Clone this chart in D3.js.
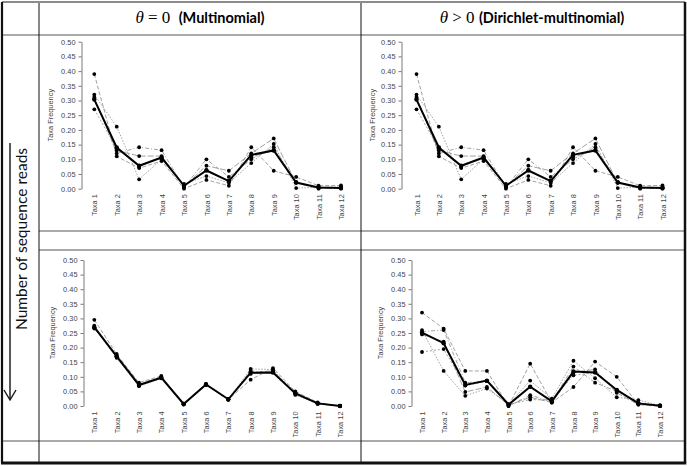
<!DOCTYPE html>
<html>
<head>
<meta charset="utf-8">
<script src="https://cdn.jsdelivr.net/npm/d3@7"></script>
<style>
  html, body { margin: 0; padding: 0; background: #fff; }
  svg { display: block; }
</style>
</head>
<body>
<svg id="chart" width="687" height="466"></svg>
<script>
// ---------------- data ----------------
const taxa = ["Taxa 1","Taxa 2","Taxa 3","Taxa 4","Taxa 5","Taxa 6","Taxa 7","Taxa 8","Taxa 9","Taxa 10","Taxa 11","Taxa 12"];
const yTicks = [0, 0.05, 0.10, 0.15, 0.20, 0.25, 0.30, 0.35, 0.40, 0.45, 0.50];
const colHeaders = ["(Multinomial)", "(Dirichlet-multinomial)"];
const colSymbols = ["=", ">"];
const rowLabel = "Number of sequence reads";
const yTitle = "Taxa Frequency";

// few reads (top row) — multinomial
const topMean = [0.303, 0.140, 0.078, 0.106, 0.010, 0.062, 0.026, 0.115, 0.130, 0.021, 0.004, 0.002];
const topReps = [
  [0.390, 0.110, 0.070, 0.094, 0.000, 0.030, 0.010, 0.141, 0.061, 0.040, 0.010, 0.011],
  [0.320, 0.211, 0.032, 0.100, 0.016, 0.043, 0.020, 0.087, 0.152, 0.002, 0.005, 0.005],
  [0.312, 0.120, 0.141, 0.131, 0.005, 0.100, 0.040, 0.100, 0.141, 0.022, 0.003, 0.000],
  [0.306, 0.130, 0.111, 0.111, 0.008, 0.078, 0.061, 0.120, 0.171, 0.020, 0.000, 0.005],
  [0.270, 0.137, 0.075, 0.107, 0.010, 0.064, 0.026, 0.107, 0.131, 0.022, 0.004, 0.002]
];
// top row — Dirichlet-multinomial (same picture)
const topDMMean = topMean.slice();
const topDMReps = topReps.map(r => r.slice());

// many reads (bottom row) — multinomial
const botMean = [0.270, 0.170, 0.072, 0.097, 0.007, 0.074, 0.023, 0.114, 0.115, 0.043, 0.009, 0.000];
const botReps = [
  [0.295, 0.178, 0.080, 0.103, 0.005, 0.075, 0.022, 0.090, 0.130, 0.050, 0.012, 0.000],
  [0.275, 0.165, 0.068, 0.095, 0.008, 0.073, 0.023, 0.127, 0.125, 0.038, 0.007, 0.000],
  [0.270, 0.170, 0.075, 0.100, 0.007, 0.076, 0.021, 0.120, 0.115, 0.045, 0.010, 0.001],
  [0.265, 0.175, 0.070, 0.098, 0.006, 0.072, 0.024, 0.110, 0.118, 0.042, 0.008, 0.000],
  [0.268, 0.168, 0.073, 0.097, 0.007, 0.074, 0.022, 0.115, 0.120, 0.047, 0.009, 0.000]
];
// bottom row — Dirichlet-multinomial
const botDMMean = [0.251, 0.215, 0.072, 0.087, 0.005, 0.066, 0.016, 0.118, 0.115, 0.055, 0.009, 0.001];
const botDMReps = [
  [0.320, 0.265, 0.120, 0.120, 0.000, 0.145, 0.012, 0.065, 0.152, 0.100, 0.005, 0.000],
  [0.260, 0.120, 0.035, 0.060, 0.005, 0.087, 0.025, 0.155, 0.095, 0.030, 0.020, 0.002],
  [0.255, 0.260, 0.080, 0.085, 0.000, 0.037, 0.015, 0.135, 0.080, 0.050, 0.010, 0.000],
  [0.245, 0.220, 0.048, 0.065, 0.003, 0.030, 0.012, 0.115, 0.125, 0.045, 0.005, 0.000],
  [0.185, 0.195, 0.070, 0.085, 0.005, 0.022, 0.020, 0.105, 0.115, 0.055, 0.010, 0.002]
];

// ---------------- layout ----------------
const svg = d3.select("#chart");
const L = { left: 2, right: 685, top: 2, bottom: 463, col1: 39, col2: 361 };
const fullRows = [35, 441];
const innerRows = [231, 250];

const panels = [
  { mean: topMean,   reps: topReps,   axisX: 81.5,  x0: 94.3,  x1: 341,   y0: 188.7, y1: 41.7, titleX: 50 },
  { mean: topDMMean, reps: topDMReps, axisX: 401.5, x0: 416.5, x1: 662.5, y0: 188.7, y1: 41.7, titleX: 372 },
  { mean: botMean,   reps: botReps,   axisX: 83.5,  x0: 94.3,  x1: 340,   y0: 406,   y1: 260,  titleX: 52 },
  { mean: botDMMean, reps: botDMReps, axisX: 411.5, x0: 422,   x1: 660,   y0: 406,   y1: 260,  titleX: 380 }
];
const dashes = ["4,2", "1.5,1.5", "4,2,1,2", "6,2", "2,2"];

panels.forEach(p => {
  const x = d3.scalePoint().domain(taxa).range([p.x0, p.x1]).padding(0);
  const y = d3.scaleLinear().domain([0, 0.5]).range([p.y0, p.y1]);
  const g = svg.append("g");

  const yAxis = g.append("g")
    .attr("transform", `translate(${p.axisX},0)`)
    .call(d3.axisLeft(y).tickValues(yTicks).tickFormat(d3.format(".2f")).tickSize(3).tickSizeOuter(0).tickPadding(3));
  yAxis.select(".domain").attr("stroke", "#555").attr("stroke-width", 0.8);
  yAxis.selectAll(".tick line").attr("stroke", "#555").attr("stroke-width", 0.8);
  yAxis.selectAll("text").attr("font-family", "Liberation Sans, Arial, sans-serif").attr("font-size", 7.4).attr("fill", "#444");

  const xAxis = g.append("g")
    .attr("transform", `translate(0,${p.y0})`)
    .call(d3.axisBottom(x).tickSize(0).tickPadding(0));
  xAxis.select(".domain").remove();
  xAxis.selectAll("text")
    .attr("font-family", "Liberation Sans, Arial, sans-serif").attr("font-size", 7.4).attr("fill", "#444")
    .attr("transform", "rotate(-90)")
    .attr("text-anchor", "end")
    .attr("x", -5.5).attr("y", 0).attr("dy", "0.35em");

  g.append("text")
    .attr("transform", `translate(${p.titleX},${(p.y0 + p.y1) / 2}) rotate(-90)`)
    .attr("text-anchor", "middle")
    .attr("dy", "0.35em")
    .attr("font-family", "Liberation Sans, Arial, sans-serif").attr("font-size", 7.4).attr("fill", "#444")
    .text(yTitle);

  const line = d3.line().x((d, i) => x(taxa[i])).y(d => y(d));

  p.reps.forEach((r, k) => {
    g.append("path").attr("d", line(r))
      .attr("fill", "none").attr("stroke", "#8a8a8a").attr("stroke-width", 0.8)
      .attr("stroke-dasharray", dashes[k % dashes.length]);
  });
  p.reps.forEach(r => {
    g.selectAll(null).data(r).enter().append("circle")
      .attr("cx", (d, i) => x(taxa[i])).attr("cy", d => y(d)).attr("r", 1.9).attr("fill", "#000");
  });
  g.append("path").attr("d", line(p.mean))
    .attr("fill", "none").attr("stroke", "#000").attr("stroke-width", 2);
  g.selectAll(null).data(p.mean).enter().append("circle")
    .attr("cx", (d, i) => x(taxa[i])).attr("cy", d => y(d)).attr("r", 2.2).attr("fill", "#000");
});

// ---------------- table grid ----------------
fullRows.forEach(yy => {
  svg.append("line").attr("x1", L.left).attr("x2", L.right).attr("y1", yy).attr("y2", yy)
    .attr("stroke", "#8c8c8c").attr("stroke-width", 1.6);
});
innerRows.forEach(yy => {
  svg.append("line").attr("x1", L.col1).attr("x2", L.right).attr("y1", yy).attr("y2", yy)
    .attr("stroke", "#8c8c8c").attr("stroke-width", 1.6);
});
[L.col1, L.col2].forEach(xx => {
  svg.append("line").attr("x1", xx).attr("x2", xx).attr("y1", L.top).attr("y2", L.bottom)
    .attr("stroke", "#111").attr("stroke-width", 1);
});
svg.append("line").attr("x1", L.left).attr("x2", L.right).attr("y1", L.top).attr("y2", L.top)
  .attr("stroke", "#8c8c8c").attr("stroke-width", 2);
svg.append("line").attr("x1", L.left).attr("x2", L.left).attr("y1", L.top).attr("y2", L.bottom)
  .attr("stroke", "#111").attr("stroke-width", 2.2);
svg.append("line").attr("x1", L.right).attr("x2", L.right).attr("y1", L.top).attr("y2", L.bottom)
  .attr("stroke", "#111").attr("stroke-width", 2.5);
svg.append("line").attr("x1", L.left - 1).attr("x2", L.right + 1.25).attr("y1", L.bottom).attr("y2", L.bottom)
  .attr("stroke", "#111").attr("stroke-width", 3);

// ---------------- headers ----------------
const headerCenters = [(L.col1 + L.col2) / 2, (L.col2 + L.right) / 2 + 9];
headerCenters.forEach((cx, i) => {
  const t = svg.append("text").attr("x", cx).attr("y", 23).attr("text-anchor", "middle").attr("fill", "#000");
  t.append("tspan").attr("font-family", "Liberation Serif, DejaVu Serif, serif").attr("font-style", "italic").attr("font-size", 17).text("θ");
  t.append("tspan").attr("font-family", "Liberation Serif, DejaVu Serif, serif").attr("font-size", 17).text(` ${colSymbols[i]} 0 `);
  t.append("tspan").attr("font-family", "Lato, Open Sans, sans-serif").attr("font-weight", "bold").attr("font-size", 14.5).attr("dx", i === 0 ? 4 : 0).text(colHeaders[i]);
});

// ---------------- row label with arrow ----------------
svg.append("text")
  .attr("transform", "translate(22,239) rotate(-90)")
  .attr("text-anchor", "middle").attr("dy", "0.35em")
  .attr("font-family", "Lato, Open Sans, sans-serif").attr("font-size", 15.5).attr("fill", "#111")
  .text(rowLabel);
svg.append("line").attr("x1", 10).attr("x2", 10).attr("y1", 143).attr("y2", 399)
  .attr("stroke", "#111").attr("stroke-width", 1.4);
svg.append("path").attr("d", "M4,390 L10,400 L16,390")
  .attr("fill", "none").attr("stroke", "#111").attr("stroke-width", 1.4);
</script>
</body>
</html>
